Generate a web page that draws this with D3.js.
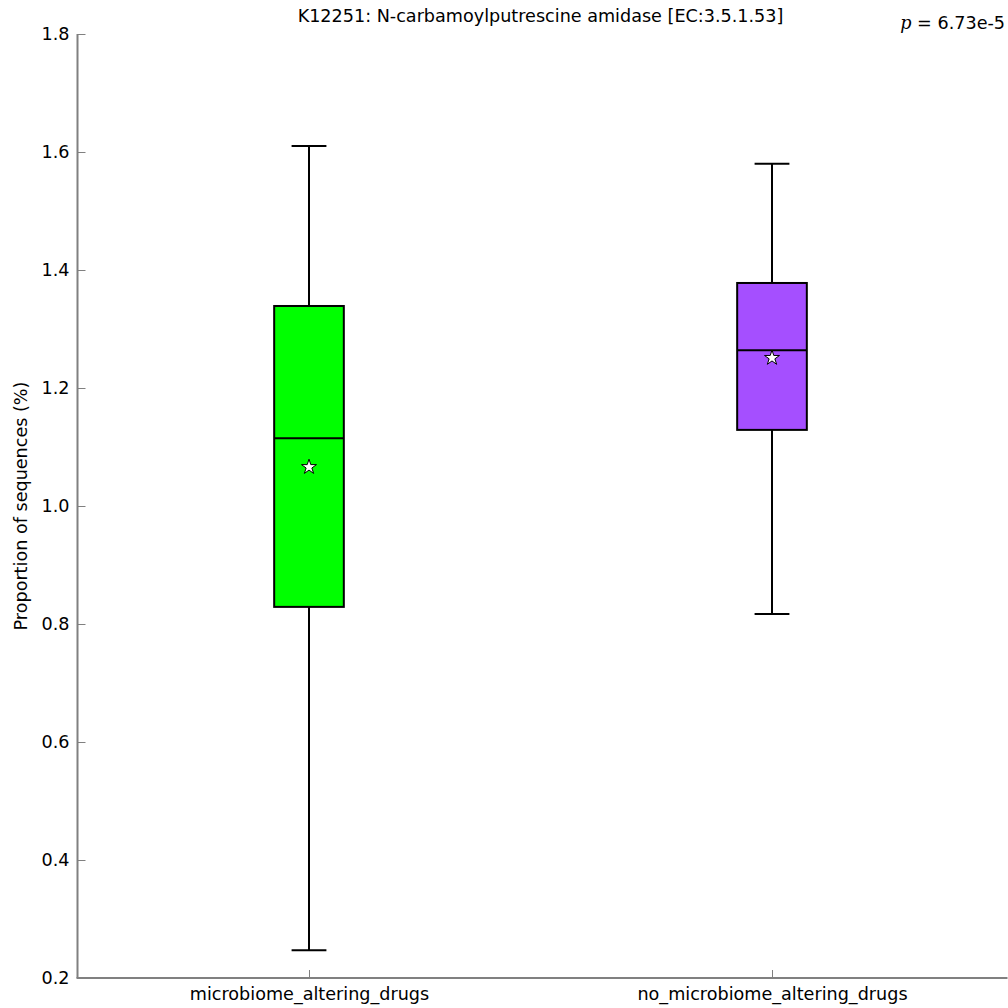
<!DOCTYPE html>
<html>
<head>
<meta charset="utf-8">
<script src="https://cdn.jsdelivr.net/npm/d3@7"></script>
<style>
  html, body { margin: 0; padding: 0; background: #fff; }
  svg { display: block; font-family: "DejaVu Sans", sans-serif; }
</style>
</head>
<body>
<svg id="chart" width="1008" height="1008"></svg>
<script>
// Group labels and box statistics (proportion of sequences, %)
const groups = ["microbiome_altering_drugs", "no_microbiome_altering_drugs"];
const whiskerLow = [0.247, 0.817];
const q1 = [0.829, 1.129];
const median = [1.115, 1.264];
const q3 = [1.339, 1.378];
const whiskerHigh = [1.610, 1.580];
const means = [1.066, 1.251];
const fills = ["#00ff00", "#a54fff"];
const yTicks = [0.2, 0.4, 0.6, 0.8, 1.0, 1.2, 1.4, 1.6, 1.8];

const title = "K12251: N-carbamoylputrescine amidase [EC:3.5.1.53]";
const pValue = "6.73e-5";
const yLabel = "Proportion of sequences (%)";

(function draw() {
  const svg = d3.select("#chart");
  const plotLeft = 77.5, plotRight = 1003.5, plotTop = 34, plotBottom = 978;
  const fs = 17.6;

  // Positions 1..n with half-unit padding on each side
  const x = d3.scaleLinear().domain([0.5, groups.length + 0.5]).range([plotLeft, plotRight]);
  const y = d3.scaleLinear().domain([0.2, 1.8]).range([plotBottom, plotTop]);

  const boxHalf = (x(1.15) - x(1)) / 2 + 0.1;   // box width ~0.15 units
  const capHalf = boxHalf / 2;

  const axisColor = "#808080";

  // Y axis (inward ticks)
  const yAxis = d3.axisLeft(y).tickValues(yTicks).tickSize(-8).tickPadding(8)
    .tickFormat(d3.format(".1f"));
  const gy = svg.append("g").attr("transform", `translate(${plotLeft},0)`).call(yAxis);
  gy.select(".domain").attr("stroke", axisColor).attr("stroke-width", 2)
    .attr("d", `M0,${plotTop}V${plotBottom}`);
  gy.selectAll(".tick line").attr("stroke", axisColor).attr("stroke-width", 1);
  gy.selectAll(".tick text").attr("font-size", fs).attr("fill", "#000")
    .attr("font-family", "DejaVu Sans, sans-serif");

  // X axis (inward ticks at group centres)
  const xAxis = d3.axisBottom(x).tickValues(groups.map((_, i) => i + 1))
    .tickSize(-8).tickPadding(10).tickFormat((d) => groups[d - 1]);
  const gx = svg.append("g").attr("transform", `translate(0,${plotBottom})`).call(xAxis);
  gx.select(".domain").attr("stroke", axisColor).attr("stroke-width", 2)
    .attr("d", `M${plotLeft - 1},0H${plotRight + 4}`);
  gx.selectAll(".tick line").attr("stroke", axisColor).attr("stroke-width", 1);
  gx.selectAll(".tick text").attr("font-size", fs).attr("fill", "#000")
    .attr("font-family", "DejaVu Sans, sans-serif");

  // Boxes
  const boxes = svg.append("g").selectAll("g").data(groups).join("g")
    .attr("transform", (d, i) => `translate(${x(i + 1)},0)`);

  boxes.append("line")
    .attr("y1", (d, i) => y(whiskerHigh[i])).attr("y2", (d, i) => y(q3[i]))
    .attr("stroke", "#000").attr("stroke-width", 2);
  boxes.append("line")
    .attr("y1", (d, i) => y(q1[i])).attr("y2", (d, i) => y(whiskerLow[i]))
    .attr("stroke", "#000").attr("stroke-width", 2);
  boxes.append("line")
    .attr("x1", -capHalf).attr("x2", capHalf)
    .attr("y1", (d, i) => y(whiskerHigh[i])).attr("y2", (d, i) => y(whiskerHigh[i]))
    .attr("stroke", "#000").attr("stroke-width", 2);
  boxes.append("line")
    .attr("x1", -capHalf).attr("x2", capHalf)
    .attr("y1", (d, i) => y(whiskerLow[i])).attr("y2", (d, i) => y(whiskerLow[i]))
    .attr("stroke", "#000").attr("stroke-width", 2);
  boxes.append("rect")
    .attr("x", -boxHalf).attr("width", 2 * boxHalf)
    .attr("y", (d, i) => y(q3[i])).attr("height", (d, i) => y(q1[i]) - y(q3[i]))
    .attr("fill", (d, i) => fills[i]).attr("stroke", "#000").attr("stroke-width", 2);
  boxes.append("line")
    .attr("x1", -boxHalf).attr("x2", boxHalf)
    .attr("y1", (d, i) => y(median[i])).attr("y2", (d, i) => y(median[i]))
    .attr("stroke", "#000").attr("stroke-width", 2);

  // Mean markers
  const star = d3.symbol().type(d3.symbolStar).size(70);
  boxes.append("path")
    .attr("d", star)
    .attr("transform", (d, i) => `translate(0,${y(means[i])})`)
    .attr("fill", "#fff").attr("stroke", "#000").attr("stroke-width", 1);

  // Title
  svg.append("text").attr("x", (plotLeft + plotRight) / 2).attr("y", 22)
    .attr("text-anchor", "middle").attr("font-size", fs).attr("fill", "#000")
    .text(title);

  // p-value
  const pt = svg.append("text").attr("x", 1005).attr("y", 29)
    .attr("text-anchor", "end").attr("font-size", fs).attr("fill", "#000");
  pt.append("tspan").attr("font-family", "DejaVu Serif, serif").attr("font-style", "italic").text("p");
  pt.append("tspan").text(" = " + pValue);

  // Y label
  svg.append("text")
    .attr("transform", `translate(27,${(plotTop + plotBottom) / 2}) rotate(-90)`)
    .attr("text-anchor", "middle").attr("font-size", fs).attr("fill", "#000")
    .text(yLabel);
})();
</script>
</body>
</html>
